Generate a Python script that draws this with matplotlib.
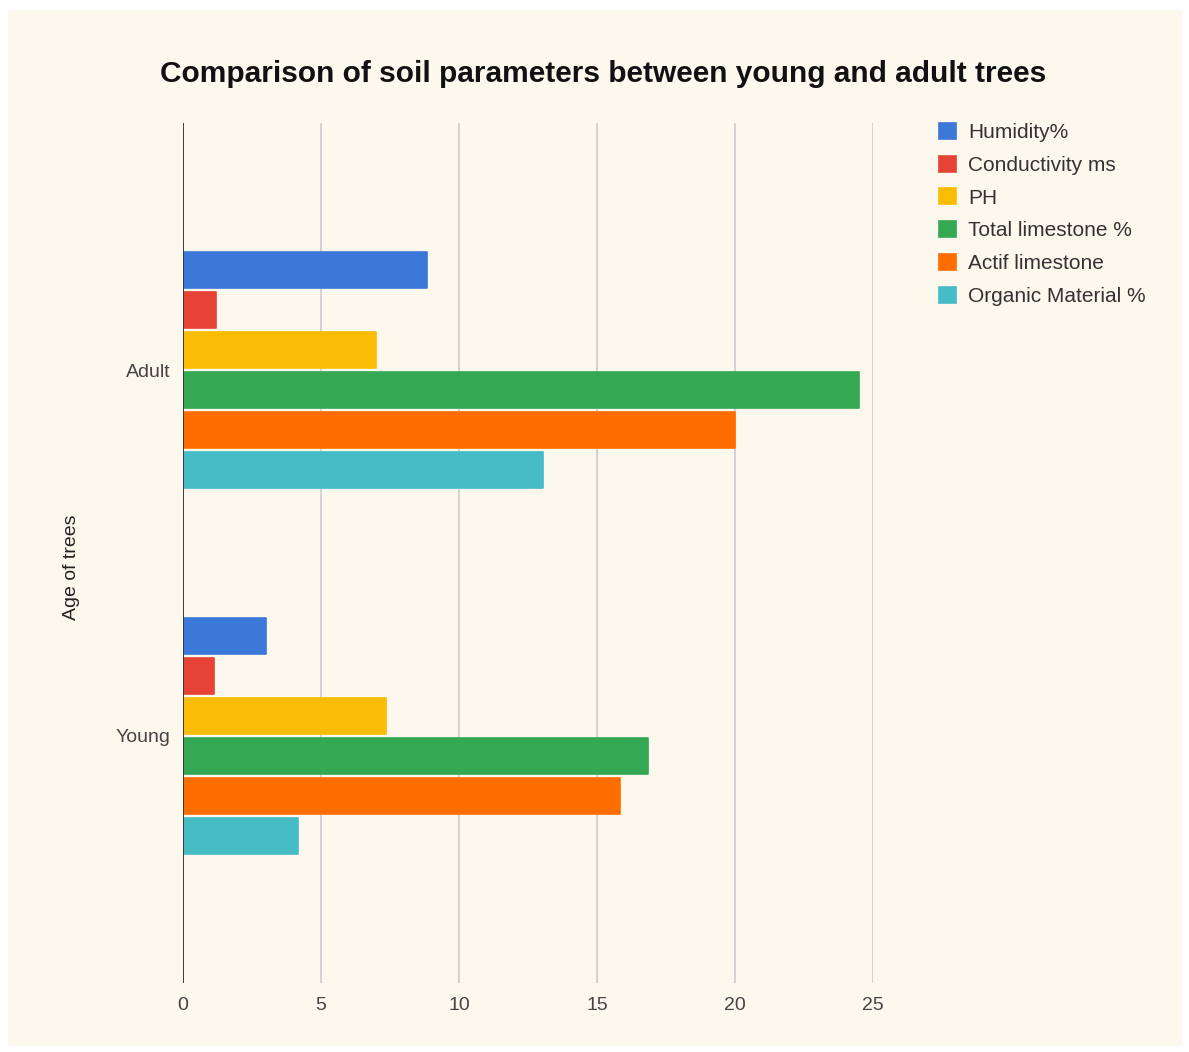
import numpy as np
import matplotlib
matplotlib.use("Agg")
import matplotlib.pyplot as plt
from matplotlib.patches import Rectangle

plt.rcParams['font.family'] = ['Liberation Sans', 'DejaVu Sans']

# soil measurements per tree age group
ages = ['Adult', 'Young']
params = ['Humidity%', 'Conductivity ms', 'PH', 'Total limestone %',
          'Actif limestone', 'Organic Material %']
humidity = [8.85, 2.99]
conductivity = [1.2, 1.13]
ph = [7.0, 7.34]
total_limestone = [24.5, 16.85]
actif_limestone = [20.0, 15.85]
organic_material = [13.05, 4.17]
xticks = [0, 5, 10, 15, 20, 25]

series = [humidity, conductivity, ph, total_limestone, actif_limestone, organic_material]
colors = ['#3c78d8', '#e64236', '#fbbc04', '#34a853', '#ff6d01', '#46bdc6']

bg = '#fcf8ee'
fig = plt.figure(figsize=(11.89, 10.52), dpi=100, facecolor='white')
fig.patches.append(Rectangle((8 / 1189, 1 - 1046 / 1052), 1174 / 1189, 1036 / 1052,
                             transform=fig.transFigure, facecolor=bg, edgecolor='none', zorder=-1))

ax = fig.add_axes([183 / 1189, 1 - 983 / 1052, 690 / 1189, 860 / 1052])
ax.set_facecolor(bg)

y = np.arange(len(ages))
pitch = 0.1093
h = 0.098
for i, (vals, c, name) in enumerate(zip(series, colors, params)):
    ax.barh(y + (i - 2.5) * pitch, vals, height=h, color=c, edgecolor=c,
            linewidth=1.2, joinstyle='round', label=name, zorder=3)

ax.set_xlim(0, 25)
ax.set_ylim(1.675, -0.675)
ax.set_xticks(xticks)
ax.set_xticklabels([str(t) for t in xticks])
ax.set_yticks(y)
ax.set_yticklabels(ages)
ax.grid(axis='x', color='#cccccc', linewidth=1.2, zorder=1)
ax.axvline(0, color='#333333', linewidth=1.3, zorder=4)
for s in ax.spines.values():
    s.set_visible(False)
ax.tick_params(axis='both', length=0, labelsize=14, colors='#444444')
ax.tick_params(axis='x', pad=10)
ax.tick_params(axis='y', pad=9)

ax.set_ylabel('Age of trees', fontsize=14, color='#222222')
ax.yaxis.set_label_coords(-0.149, 0.483)

fig.text(603 / 1189, 1 - 74 / 1052, 'Comparison of soil parameters between young and adult trees',
         ha='center', va='center', fontsize=21.5, fontweight='bold', color='#111111')

leg = ax.legend(loc='upper left', bbox_to_anchor=(939 / 1189, 1 - 123 / 1052),
                bbox_transform=fig.transFigure, frameon=False, fontsize=15,
                handlelength=0.8, handleheight=0.8, handletextpad=0.6,
                labelspacing=0.65, borderpad=0, borderaxespad=0)
for t in leg.get_texts():
    t.set_color('#333333')

fig.savefig('out.png', dpi=100, facecolor='white')
